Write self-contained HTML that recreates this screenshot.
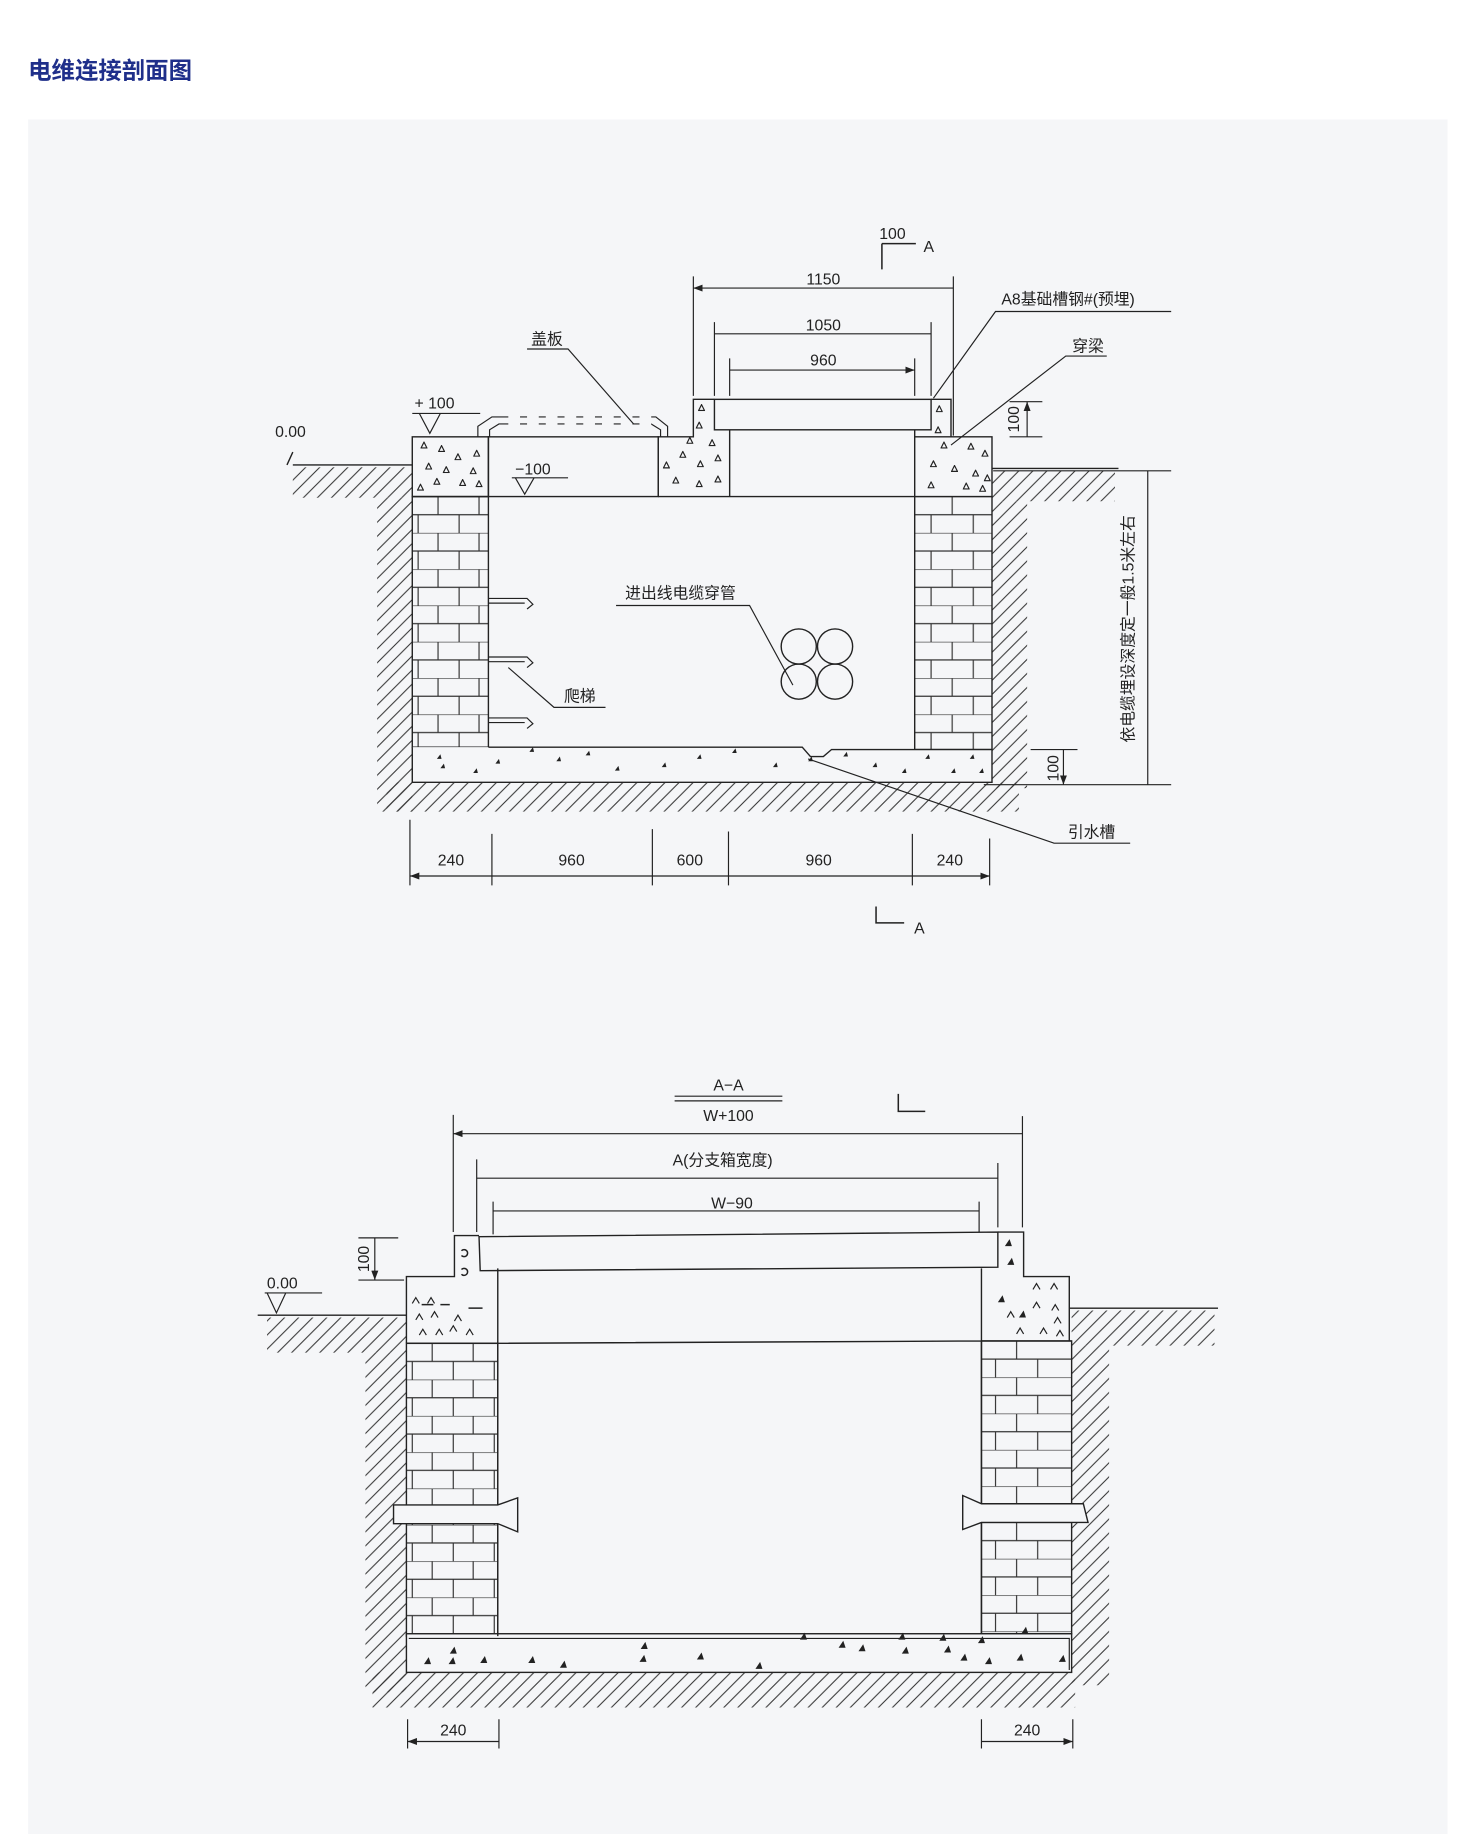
<!DOCTYPE html>
<html><head><meta charset="utf-8"><style>
html,body{margin:0;padding:0;background:#fff;}
body{width:1464px;height:1834px;overflow:hidden;}
svg{display:block}
text{font-family:"Liberation Sans","Noto Sans CJK SC",sans-serif;fill:#222;}
</style></head><body>
<svg width="1464" height="1834" viewBox="0 0 1250 1566" xmlns="http://www.w3.org/2000/svg">
<defs>
<pattern id="h" width="12" height="12" patternUnits="userSpaceOnUse">
<path d="M-1,13 L13,-1 M-7,7 L7,-7 M5,19 L19,5" stroke="#333" stroke-width="0.9"/>
</pattern>
<pattern id="bL" x="352" y="424" width="70" height="31" patternUnits="userSpaceOnUse">
<path d="M0,0H70M0,15.5H70M22,0V15.5M57,0V15.5M5,15.5V31M40,15.5V31" stroke="#333" stroke-width="1" fill="none"/>
</pattern>
<pattern id="bR" x="781" y="424" width="70" height="31" patternUnits="userSpaceOnUse">
<path d="M0,0H70M0,15.5H70M32,0V15.5M14,15.5V31M50,15.5V31" stroke="#333" stroke-width="1" fill="none"/>
</pattern>
<pattern id="bL2" x="347" y="1147" width="70" height="31" patternUnits="userSpaceOnUse">
<path d="M0,0H70M0,15.5H70M22,0V15.5M57,0V15.5M5,15.5V31M40,15.5V31" stroke="#333" stroke-width="1" fill="none"/>
</pattern>
<pattern id="bR2" x="838" y="1145" width="70" height="31" patternUnits="userSpaceOnUse">
<path d="M0,0H70M0,15.5H70M30,0V15.5M12,15.5V31M48,15.5V31" stroke="#333" stroke-width="1" fill="none"/>
</pattern>
<marker id="a" markerWidth="8" markerHeight="6" refX="8" refY="3" orient="auto-start-reverse"><path d="M0,0L8,3L0,6z" fill="#222"/></marker>
<symbol id="t" viewBox="0 0 6 6"><path d="M0.5,5.5L3,0.5L5.5,5.5z" fill="none" stroke="#222" stroke-width="1"/></symbol>
</defs>
<rect width="1250" height="1566" fill="#fff"/>
<text x="24" y="67" font-size="20" font-weight="bold" style="fill:#1f2f8a">电维连接剖面图</text>
<rect x="24" y="102" width="1212" height="1464" fill="#f5f6f8"/>

<g stroke="#222" stroke-width="1.2" fill="none">
<rect x="250" y="399" width="102" height="26" fill="url(#h)" stroke="none"/>
<rect x="322" y="425" width="30" height="268" fill="url(#h)" stroke="none"/>
<rect x="330" y="668" width="540" height="25" fill="url(#h)" stroke="none"/>
<rect x="847" y="402" width="105" height="26" fill="url(#h)" stroke="none"/>
<rect x="847" y="428" width="30" height="245" fill="url(#h)" stroke="none"/>
<path d="M245,397 L250,386 M250,397H352 M847,400H955"/>
<rect x="352" y="424" width="65" height="214" fill="url(#bL)"/>
<rect x="781" y="424" width="66" height="216" fill="url(#bR)"/>
<path d="M352,638 V668 H847 V640 H710 L703,646 H692 L685,638 H417" fill="#f5f6f8"/>
<rect x="352" y="373" width="65" height="51"/>
<rect x="417" y="373" width="145" height="51"/>
<path d="M562,424 V373 H592 V341 H610 M562,424 H781 M623,367 V424 M781,367 V424 M795,341 H812 V373 H847 V424 M781,373 H812"/>
<rect x="610" y="341" width="185" height="26"/>
<path d="M408,373 V364 L420,356 H560 L570,364 V373 M418,373 V367 L426,362 H556 L564,367 V373" stroke-width="1"/>
<path d="M430,356 H560 M430,362 H556" stroke="#f5f6f8" stroke-width="2" stroke-dasharray="10 6" stroke-dashoffset="-20"/>
<path d="M417,511 H450 L455,516 L450,520 M417,515 H448 M417,561 H450 L455,566 L450,570 M417,565 H448 M417,613 H450 L455,618 L450,622 M417,617 H448" stroke-width="1"/>
<circle cx="682" cy="552" r="15"/><circle cx="713" cy="552" r="15"/>
<circle cx="682" cy="582" r="15"/><circle cx="713" cy="582" r="15"/>
<path d="M450,298 H485 L541,362 M526,517 H640 L677,585 M434,570 L473,604 H517 M690,648 L900,720 H965 M797,340 L850,266 H1000 M812,380 L910,304 H945" stroke-width="1"/>
<path d="M352,353 H410 M358,353 L367,370 L376,353 M437,408 H485 M440,408 L448,422 L456,408" stroke-width="1"/>
<path d="M592,236 V338 M814,236 V372 M610,275 V338 M795,275 V338 M623,306 V338 M781,306 V338" stroke-width="1"/>
<path d="M592,246 H814 M610,285 H795 M623,316 H781" stroke-width="1" marker-start="url(#a)" marker-end="url(#a)"/>
<path d="M753,208 V230 M753,208 H782 M748,774 V788 H772" stroke-width="1.3"/>
<path d="M862,343 H890 M862,373 H890 M848,402 H1000 M840,670 H1000 M880,640 H920" stroke-width="1"/>
<path d="M877,343 V373 M980,402 V670 M908,640 V670" stroke-width="1" marker-start="url(#a)" marker-end="url(#a)"/>
<path d="M350,700 V756 M420,712 V756 M557,708 V756 M622,710 V756 M779,712 V756 M845,716 V756" stroke-width="1"/>
<path d="M350,748 H420 M420,748 H557 M557,748 H622 M622,748 H779 M779,748 H845" stroke-width="1" marker-start="url(#a)" marker-end="url(#a)"/>

<rect x="228" y="1125" width="119" height="30" fill="url(#h)" stroke="none"/>
<rect x="312" y="1155" width="35" height="290" fill="url(#h)" stroke="none"/>
<rect x="318" y="1428" width="600" height="30" fill="url(#h)" stroke="none"/>
<rect x="915" y="1119" width="122" height="30" fill="url(#h)" stroke="none"/>
<rect x="915" y="1149" width="32" height="290" fill="url(#h)" stroke="none"/>
<path d="M220,1123 H347 M913,1117 H1040"/>
<rect x="347" y="1147" width="78" height="250" fill="url(#bL2)"/>
<rect x="838" y="1145" width="77" height="250" fill="url(#bR2)"/>
<rect x="347" y="1395" width="568" height="33" fill="#f5f6f8"/>
<path d="M349,1399 H913 V1426" stroke-width="1"/>
<path d="M347,1147 V1090 H388 V1055 H409 M425,1083 V1397 M838,1083 V1395 M852,1052 H874 V1090 H913 V1145 M425,1147 L838,1145 M347,1147 H425 M838,1145 H915"/>
<path d="M409,1056 L852,1052 V1082 L410,1085 Z"/>
<path d="M336,1285 H425 L442,1279 V1308 L425,1301 H336 Z" fill="#f5f6f8"/>
<path d="M838,1284 H925 L929,1300 H838 L822,1306 V1277 Z" fill="#f5f6f8"/>
<path d="M226,1104 H275 M228,1104 L236,1121 L244,1104" stroke-width="1"/>
<path d="M576,936 H668 M576,940 H668" stroke-width="1"/>
<path d="M767,934 V949 H790" stroke-width="1.3"/>
<path d="M387,952 V1052 M873,953 V1048 M407,990 V1052 M852,993 V1048 M421,1026 V1054 M836,1026 V1052 M306,1057 H340 M306,1093 H345" stroke-width="1"/>
<path d="M387,968 H873 M407,1006 H852 M421,1034 H836 M320,1057 V1093" stroke-width="1" marker-start="url(#a)" marker-end="url(#a)"/>
<path d="M348,1468 V1493 M426,1468 V1493 M838,1468 V1493 M916,1468 V1493" stroke-width="1"/>
<path d="M348,1487 H426 M838,1487 H916" stroke-width="1" marker-start="url(#a)" marker-end="url(#a)"/>
</g>

<g fill="#222">
<use href="#t" x="359" y="377" width="6" height="6"/><use href="#t" x="374" y="380" width="6" height="6"/><use href="#t" x="388" y="387" width="6" height="6"/>
<use href="#t" x="404" y="384" width="6" height="6"/><use href="#t" x="363" y="395" width="6" height="6"/><use href="#t" x="378" y="398" width="6" height="6"/>
<use href="#t" x="401" y="399" width="6" height="6"/><use href="#t" x="370" y="408" width="6" height="6"/><use href="#t" x="392" y="409" width="6" height="6"/>
<use href="#t" x="356" y="413" width="6" height="6"/><use href="#t" x="406" y="410" width="6" height="6"/>
<use href="#t" x="566" y="394" width="6" height="6"/><use href="#t" x="580" y="385" width="6" height="6"/><use href="#t" x="595" y="393" width="6" height="6"/>
<use href="#t" x="610" y="388" width="6" height="6"/><use href="#t" x="574" y="407" width="6" height="6"/><use href="#t" x="594" y="410" width="6" height="6"/>
<use href="#t" x="610" y="406" width="6" height="6"/><use href="#t" x="596" y="345" width="6" height="6"/><use href="#t" x="594" y="360" width="6" height="6"/>
<use href="#t" x="586" y="373" width="6" height="6"/><use href="#t" x="605" y="375" width="6" height="6"/>
<use href="#t" x="799" y="346" width="6" height="6"/><use href="#t" x="798" y="364" width="6" height="6"/><use href="#t" x="803" y="377" width="6" height="6"/>
<use href="#t" x="826" y="378" width="6" height="6"/><use href="#t" x="838" y="384" width="6" height="6"/><use href="#t" x="794" y="393" width="6" height="6"/>
<use href="#t" x="812" y="397" width="6" height="6"/><use href="#t" x="830" y="401" width="6" height="6"/><use href="#t" x="840" y="405" width="6" height="6"/>
<use href="#t" x="792" y="411" width="6" height="6"/><use href="#t" x="822" y="412" width="6" height="6"/><use href="#t" x="836" y="414" width="6" height="6"/>
<path d="M373,648l3,-4l1,4z M376,656l3,-4l1,4z M423,652l3,-4l1,4z M452,642l3,-4l1,4z M475,650l3,-4l1,4z M500,645l3,-4l1,4z M525,658l3,-4l1,4z M565,655l3,-4l1,4z M595,648l3,-4l1,4z M625,643l3,-4l1,4z M660,655l3,-4l1,4z M690,650l3,-4l1,4z M720,646l3,-4l1,4z M745,655l3,-4l1,4z M770,660l3,-4l1,4z M790,648l3,-4l1,4z M812,660l3,-4l1,4z M828,648l3,-4l1,4z M836,660l3,-4l1,4z M404,660l3,-4l1,4z"/>
<path d="M362,1421l4,-6l2,6z M383,1421l4,-6l2,6z M384,1412l4,-6l2,6z M410,1420l4,-6l2,6z M451,1420l4,-6l2,6z M478,1424l4,-6l2,6z M546,1419l4,-6l2,6z M547,1408l4,-6l2,6z M595,1417l4,-6l2,6z M645,1425l4,-6l2,6z M683,1400l4,-6l2,6z M716,1407l4,-6l2,6z M733,1410l4,-6l2,6z M767,1400l4,-6l2,6z M770,1412l4,-6l2,6z M802,1401l4,-6l2,6z M806,1411l4,-6l2,6z M820,1418l4,-6l2,6z M835,1403l4,-6l2,6z M841,1421l4,-6l2,6z M868,1418l4,-6l2,6z M872,1395l4,-6l2,6z M904,1419l4,-6l2,6z M858,1064l4,-6l2,6z M860,1080l4,-6l2,6z M852,1112l4,-6l2,6z M870,1125l4,-6l2,6z"/>
<path d="M352,1113l3,-5l3,5M365,1113l3,-5l3,5M355,1127l3,-5l3,5M368,1125l3,-5l3,5M358,1140l3,-5l3,5M372,1140l3,-5l3,5M388,1128l3,-5l3,5M398,1140l3,-5l3,5M384,1137l3,-5l3,5M882,1101l3,-5l3,5M897,1101l3,-5l3,5M882,1117l3,-5l3,5M898,1119l3,-5l3,5M868,1139l3,-5l3,5M888,1139l3,-5l3,5M902,1141l3,-5l3,5M900,1130l3,-5l3,5M860,1125l3,-5l3,5" fill="none" stroke="#222" stroke-width="1"/>
<path d="M360,1114h10M376,1114h8M400,1117h12M394,1084a3,3 0 1 1 0,4M394,1068a3,3 0 1 1 0,4" fill="none" stroke="#222" stroke-width="1.3"/>
</g>

<g font-size="13.5" text-anchor="middle">
<text x="703" y="243">1150</text>
<text x="703" y="282">1050</text>
<text x="703" y="312">960</text>
<text x="762" y="204">100</text>
<text x="793" y="215">A</text>
<text x="785" y="797">A</text>
<text x="467" y="294">盖板</text>
<text x="912" y="260">A8基础槽钢#(预埋)</text>
<text x="929" y="300">穿梁</text>
<text x="248" y="373">0.00</text>
<text x="371" y="349">+ 100</text>
<text x="455" y="405">−100</text>
<text x="581" y="511">进出线电缆穿管</text>
<text x="495" y="599">爬梯</text>
<text x="932" y="715">引水槽</text>
<text x="385" y="739">240</text>
<text x="488" y="739">960</text>
<text x="589" y="739">600</text>
<text x="699" y="739">960</text>
<text x="811" y="739">240</text>
<text transform="translate(870,358) rotate(-90)">100</text>
<text transform="translate(904,656) rotate(-90)">100</text>
<text transform="translate(968,537) rotate(-90)">依电缆埋设深度定一般1.5米左右</text>
<text x="622" y="931">A−A</text>
<text x="622" y="957">W+100</text>
<text x="617" y="995">A(分支箱宽度)</text>
<text x="625" y="1032">W−90</text>
<text x="241" y="1100">0.00</text>
<text transform="translate(315,1075) rotate(-90)">100</text>
<text x="387" y="1482">240</text>
<text x="877" y="1482">240</text>
</g>
</svg>
</body></html>
